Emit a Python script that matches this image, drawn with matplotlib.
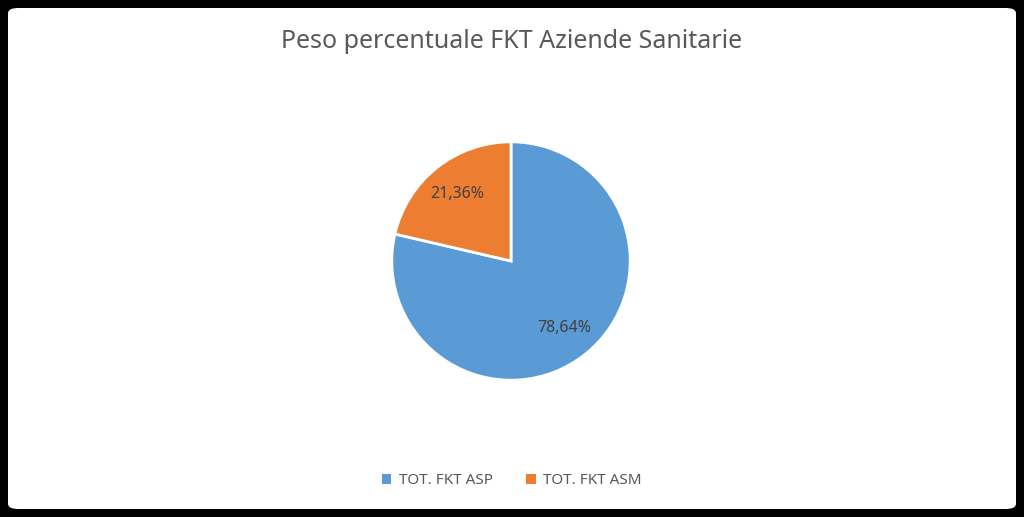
import matplotlib
matplotlib.use("Agg")
import matplotlib.pyplot as plt
from matplotlib.patches import FancyBboxPatch, Patch

LABELS = ["TOT. FKT ASP", "TOT. FKT ASM"]
VALUES = [78.64, 21.36]
COLORS = ["#5B9BD5", "#ED7D31"]
TITLE = "Peso percentuale FKT Aziende Sanitarie"
TEXT = "#595959"

plt.rcParams["font.family"] = "Noto Sans"

W, H = 1024, 517
fig = plt.figure(figsize=(W / 100, H / 100), dpi=100, facecolor="black")
fig.patches.append(FancyBboxPatch((8 / W, 8 / H), 1 - 16 / W, 1 - 16 / H,
                                  boxstyle="round,pad=0,rounding_size=0.01",
                                  transform=fig.transFigure, facecolor="white",
                                  edgecolor="none", zorder=-10))

cx, cy, r = 511, 261, 149
ax = fig.add_axes([(cx - r) / W, (H - cy - r) / H, 2 * r / W, 2 * r / H])
ax.set_zorder(5)
ax.patch.set_visible(False)
wedges, texts, autotexts = ax.pie(
    VALUES, colors=COLORS, startangle=90, counterclock=False,
    autopct=lambda p: f"{p:.2f}%".replace(".", ","), pctdistance=0.72,
    wedgeprops=dict(edgecolor="white", linewidth=2),
    textprops=dict(color="#404040", fontsize=11.5))
ax.set_aspect("equal")

fig.text(0.5, 1 - 42 / H, TITLE, ha="center", va="center", fontsize=18, color=TEXT)
handles = [Patch(facecolor=c, label=l) for c, l in zip(COLORS, LABELS)]
fig.legend(handles=handles, loc="center", bbox_to_anchor=(0.5, 1 - 481 / H), ncol=2,
           frameon=False, fontsize=11, handlelength=0.6, handleheight=0.6,
           columnspacing=2.2, handletextpad=0.5, labelcolor=TEXT)

fig.savefig("out.png", dpi=100, facecolor="black")
